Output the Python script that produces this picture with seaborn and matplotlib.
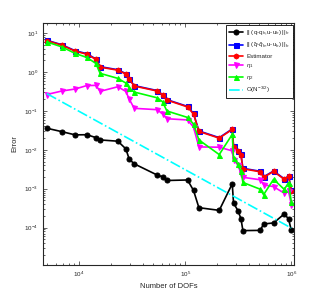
import numpy as np
import pandas as pd
import matplotlib
matplotlib.use("Agg")
import matplotlib.pyplot as plt
import matplotlib.ticker as mticker
import seaborn as sns

# ── data ─────────────────────────────────────────
dofs = [4955, 6870, 9170, 11830, 14380, 15780, 23180, 27580, 29650, 33040,
        54450, 61110, 67200, 105200, 119800, 134600, 209300, 277600, 285500,
        314300, 335200, 350000, 510000, 548000, 680900, 859000, 943000, 1000000]

err_energy = [0.0360, 0.0294, 0.0243, 0.0245, 0.0207, 0.0180, 0.0167, 0.0106,
              0.00578, 0.00438, 0.00225, 0.00203, 0.00163, 0.00168, 0.000904,
              0.000326, 0.000278, 0.00134, 0.000429, 0.000273, 0.000170,
              0.0000838, 0.0000850, 0.000124, 0.000132, 0.000225, 0.000167,
              0.0000853]

err_hat = [6.60, 5.05, 3.55, 2.97, 2.18, 1.38, 1.15, 0.915, 0.680, 0.450,
           0.335, 0.264, 0.196, 0.131, 0.0862, 0.0307, 0.0206, 0.0345, 0.0126,
           0.00955, 0.00767, 0.00336, 0.00281, 0.00203, 0.00286, 0.00180,
           0.00213, 0.000930]

estimator = [6.42, 4.92, 3.45, 2.89, 2.12, 1.34, 1.12, 0.889, 0.662, 0.438,
             0.326, 0.257, 0.191, 0.127, 0.0838, 0.0298, 0.0200, 0.0336,
             0.0122, 0.00927, 0.00745, 0.00326, 0.00273, 0.00197, 0.00278,
             0.00175, 0.00207, 0.000889]

eta1 = [0.265, 0.326, 0.367, 0.451, 0.455, 0.320, 0.420, 0.318, 0.203, 0.117,
        0.108, 0.0838, 0.0631, 0.0588, 0.0385, 0.0119, 0.0117, 0.00942,
        0.00554, 0.00412, 0.00243, 0.00197, 0.00170, 0.00127, 0.00113,
        0.000767, 0.000863, 0.000389]

eta2 = [5.98, 4.45, 3.02, 2.38, 1.67, 0.927, 0.690, 0.522, 0.389, 0.307,
        0.218, 0.173, 0.100, 0.0682, 0.0464, 0.0180, 0.00757, 0.0250,
        0.00605, 0.00425, 0.00284, 0.00145, 0.000971, 0.000702, 0.00175,
        0.000960, 0.00143, 0.000464]

rate_x = [4955, 1000000]
rate_y = [0.28, 0.0000977]

labels = ['|| (q-q$_h$,u-u$_h$) ||$_h$',
          r'|| ($\hat{q}$-$\hat{q}_h$,u-u$_h$) ||$_h$',
          'Estimator', r'$\eta_1$', r'$\eta_2$', 'O(N$^{-3/2}$)']

# ── figure ───────────────────────────────────────
sns.set_style("ticks")
plt.rcParams['font.family'] = ['Liberation Sans', 'DejaVu Sans']
plt.rcParams['mathtext.fontset'] = 'custom'
plt.rcParams['mathtext.rm'] = 'Liberation Sans'
plt.rcParams['mathtext.it'] = 'Liberation Sans:italic'

fig = plt.figure(figsize=(3.27, 3.0), dpi=100)
ax = fig.add_axes([0.131, 0.117, 0.768, 0.806])

series = [
    (err_energy, labels[0], 'black', 'o'),
    (err_hat, labels[1], 'blue', 's'),
    (estimator, labels[2], 'red', 'h'),
    (eta1, labels[3], 'magenta', 'v'),
    (eta2, labels[4], '#00ff00', '^'),
]
for vals, lab, col, mk in series:
    sns.lineplot(x=dofs, y=vals, ax=ax, color=col, marker=mk, markersize=3.6,
                 markeredgecolor=col, linewidth=1.2, label=lab,
                 sort=False, errorbar=None)

sns.lineplot(x=rate_x, y=rate_y, ax=ax, color='cyan', linestyle='-.',
             linewidth=1.2, label=labels[5], errorbar=None)

ax.set_xscale('log')
ax.set_yscale('log')
ax.set_xlim(4550, 1.06e6)
ax.set_ylim(1.1e-5, 10 ** 1.26)
ax.xaxis.set_minor_formatter(mticker.NullFormatter())
ax.yaxis.set_minor_formatter(mticker.NullFormatter())

ax.set_xlabel('Number of DOFs', fontsize=5.5, labelpad=3)
ax.set_ylabel('Error', fontsize=5.5, labelpad=4)
ax.tick_params(which='both', direction='in', top=True, right=True,
               labelsize=4.5, width=0.5)
ax.tick_params(which='major', length=3)
ax.tick_params(which='minor', length=1.5)
for sp in ax.spines.values():
    sp.set_linewidth(0.8)
    sp.set_visible(True)

leg = ax.legend(loc='upper right', bbox_to_anchor=(292.5 / 327, 275 / 300),
                bbox_transform=fig.transFigure, fontsize=4.5, frameon=True,
                fancybox=False, edgecolor='black', framealpha=1,
                borderaxespad=0, handlelength=2.3, handletextpad=0.5,
                labelspacing=0.55, borderpad=0.45)
leg.get_frame().set_linewidth(0.6)

plt.savefig('out.png', dpi=100)
